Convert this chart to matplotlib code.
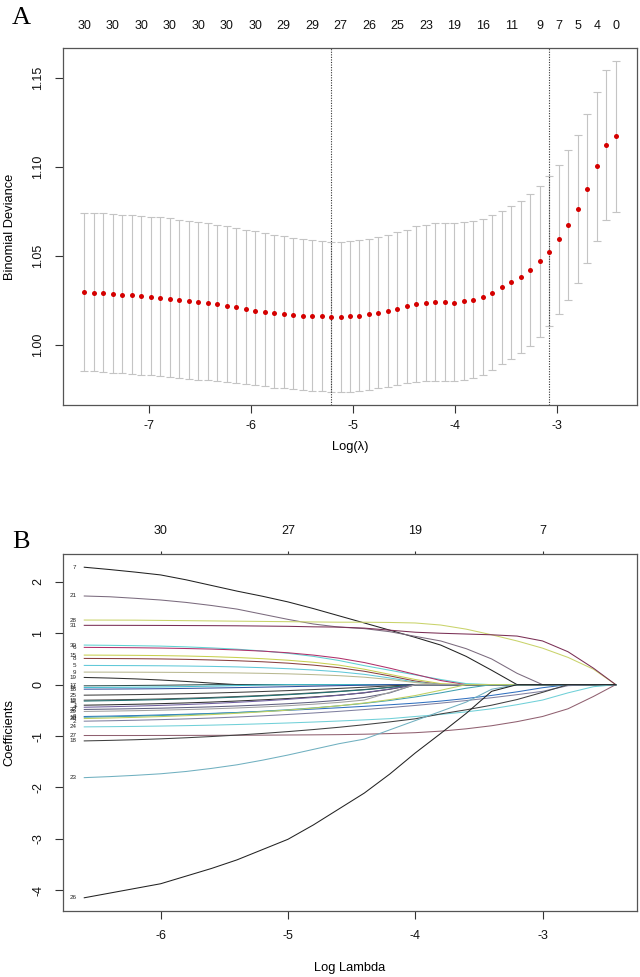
import matplotlib
matplotlib.use('Agg')
import matplotlib.pyplot as plt

plt.rcParams['font.family'] = ['Liberation Sans', 'DejaVu Sans']
plt.rcParams['axes.unicode_minus'] = False

# ---------------- Panel A: cross-validation curve ----------------
cv_loglam = [-7.631, -7.538, -7.445, -7.352, -7.259, -7.166, -7.073, -6.980, -6.887, -6.794,
             -6.701, -6.608, -6.515, -6.422, -6.330, -6.237, -6.144, -6.051, -5.958, -5.865,
             -5.772, -5.679, -5.586, -5.493, -5.400, -5.307, -5.214, -5.121, -5.028, -4.935,
             -4.842, -4.749, -4.656, -4.563, -4.470, -4.377, -4.284, -4.191, -4.098, -4.005,
             -3.912, -3.819, -3.726, -3.633, -3.540, -3.447, -3.354, -3.261, -3.168, -3.075,
             -2.982, -2.889, -2.796, -2.703, -2.610, -2.518, -2.425]
cv_mean = [1.0297, 1.0293, 1.0292, 1.0288, 1.0284, 1.0280, 1.0276, 1.0272, 1.0267, 1.0259,
           1.0254, 1.0248, 1.0243, 1.0237, 1.0230, 1.0220, 1.0213, 1.0201, 1.0192, 1.0184,
           1.0179, 1.0173, 1.0168, 1.0165, 1.0164, 1.0162, 1.0158, 1.0160, 1.0162, 1.0164,
           1.0173, 1.0182, 1.0193, 1.0205, 1.0218, 1.0231, 1.0237, 1.0243, 1.0243, 1.0239,
           1.0246, 1.0254, 1.0272, 1.0293, 1.0325, 1.0354, 1.0385, 1.0423, 1.0470, 1.0525,
           1.0594, 1.0673, 1.0765, 1.0876, 1.1006, 1.1124, 1.1175]
cv_up = [1.0743, 1.0743, 1.0741, 1.0737, 1.0733, 1.0729, 1.0724, 1.0722, 1.0720, 1.0714,
         1.0705, 1.0699, 1.0694, 1.0686, 1.0677, 1.0667, 1.0658, 1.0649, 1.0639, 1.0630,
         1.0620, 1.0611, 1.0603, 1.0598, 1.0592, 1.0587, 1.0579, 1.0579, 1.0583, 1.0588,
         1.0596, 1.0607, 1.0620, 1.0633, 1.0649, 1.0667, 1.0677, 1.0684, 1.0686, 1.0688,
         1.0692, 1.0699, 1.0711, 1.0731, 1.0754, 1.0784, 1.0812, 1.0850, 1.0895, 1.0949,
         1.1011, 1.1096, 1.1180, 1.1299, 1.1425, 1.1547, 1.1596]
cv_lo = [0.9853, 0.9852, 0.9848, 0.9844, 0.9840, 0.9836, 0.9833, 0.9829, 0.9825, 0.9821,
         0.9816, 0.9810, 0.9806, 0.9801, 0.9795, 0.9790, 0.9784, 0.9778, 0.9773, 0.9767,
         0.9761, 0.9756, 0.9750, 0.9746, 0.9742, 0.9739, 0.9737, 0.9737, 0.9737, 0.9741,
         0.9746, 0.9756, 0.9765, 0.9774, 0.9784, 0.9793, 0.9799, 0.9799, 0.9799, 0.9799,
         0.9803, 0.9812, 0.9831, 0.9859, 0.9893, 0.9921, 0.9953, 0.9994, 1.0047, 1.0105,
         1.0173, 1.0254, 1.0346, 1.0461, 1.0585, 1.0703, 1.0748]
nzero_idx = [0, 3, 6, 9, 12, 15, 18, 21, 24, 27, 30, 33, 36, 39, 42, 45, 48, 50, 52, 54, 56]
nzero_lab = [30, 30, 30, 30, 30, 30, 30, 29, 29, 27, 26, 25, 23, 19, 16, 11, 9, 7, 5, 4, 0]
lambda_min_idx = 26
lambda_1se_idx = 49
a_xticks = [-7, -6, -5, -4, -3]
a_yticks = [1.00, 1.05, 1.10, 1.15]

# ---------------- Panel B: coefficient paths ----------------
path_loglam = [-6.6, -6.4, -6.2, -6.0, -5.8, -5.6, -5.4, -5.2, -5.0, -4.8, -4.6,
               -4.4, -4.2, -4.0, -3.8, -3.6, -3.4, -3.2, -3.0, -2.8, -2.6, -2.425]
c7 = [2.285, 2.24, 2.19, 2.135, 2.04, 1.93, 1.82, 1.72, 1.61, 1.48, 1.34, 1.20, 1.06, 0.92, 0.77, 0.55, 0.28, 0, 0, 0, 0, 0]
c21 = [1.725, 1.71, 1.68, 1.647, 1.60, 1.54, 1.47, 1.37, 1.27, 1.18, 1.12, 1.09, 1.03, 0.94, 0.85, 0.70, 0.50, 0.22, 0, 0, 0, 0]
c28 = [1.257, 1.256, 1.255, 1.25, 1.245, 1.24, 1.235, 1.23, 1.225, 1.22, 1.215, 1.215, 1.21, 1.20, 1.16, 1.08, 0.97, 0.85, 0.71, 0.53, 0.30, 0]
c31 = [1.154, 1.154, 1.153, 1.152, 1.15, 1.148, 1.145, 1.14, 1.135, 1.125, 1.12, 1.10, 1.06, 1.02, 1.0, 0.985, 0.97, 0.945, 0.85, 0.64, 0.32, 0]
c30 = [0.770, 0.765, 0.758, 0.750, 0.735, 0.715, 0.690, 0.655, 0.610, 0.550, 0.470, 0.370, 0.280, 0.190, 0.100, 0.020, 0, 0, 0, 0, 0, 0]
c6 = [0.725, 0.722, 0.718, 0.712, 0.703, 0.692, 0.675, 0.652, 0.620, 0.575, 0.515, 0.430, 0.320, 0.200, 0.08, 0, 0, 0, 0, 0, 0, 0]
c15 = [0.575, 0.573, 0.570, 0.565, 0.557, 0.545, 0.528, 0.505, 0.475, 0.435, 0.380, 0.300, 0.200, 0.100, 0.02, 0, 0, 0, 0, 0, 0, 0]
c8 = [0.510, 0.508, 0.505, 0.500, 0.492, 0.480, 0.465, 0.445, 0.418, 0.380, 0.330, 0.260, 0.170, 0.07, 0, 0, 0, 0, 0, 0, 0, 0]
c5 = [0.374, 0.372, 0.370, 0.367, 0.362, 0.355, 0.345, 0.330, 0.310, 0.285, 0.250, 0.200, 0.130, 0.05, 0, 0, 0, 0, 0, 0, 0, 0]
c9 = [0.244, 0.243, 0.242, 0.240, 0.237, 0.233, 0.228, 0.220, 0.210, 0.195, 0.175, 0.145, 0.100, 0.04, 0, 0, 0, 0, 0, 0, 0, 0]
c19 = [0.140, 0.128, 0.112, 0.090, 0.062, 0.030, 0, 0, 0, 0, 0, 0, 0, 0, 0, 0, 0, 0, 0, 0, 0, 0]
c17 = [-0.023, -0.020, -0.016, -0.012, -0.006, 0, 0, 0, 0, 0, 0, 0, 0, 0, 0, 0, 0, 0, 0, 0, 0, 0]
c14 = [-0.055, -0.053, -0.050, -0.045, -0.038, -0.029, -0.019, -0.008, 0, 0, 0, 0, 0, 0, 0, 0, 0, 0, 0, 0, 0, 0]
c16 = [-0.088, -0.086, -0.083, -0.079, -0.073, -0.066, -0.058, -0.049, -0.040, -0.030, -0.020, -0.010, 0, 0, 0, 0, 0, 0, 0, 0, 0, 0]
c25 = [-0.205, -0.200, -0.194, -0.186, -0.176, -0.164, -0.150, -0.134, -0.116, -0.096, -0.074, -0.050, -0.024, 0, 0, 0, 0, 0, 0, 0, 0, 0]
c12 = [-0.302, -0.296, -0.288, -0.278, -0.265, -0.250, -0.232, -0.211, -0.187, -0.160, -0.130, -0.095, -0.050, 0, 0, 0, 0, 0, 0, 0, 0, 0]
c13 = [-0.320, -0.312, -0.303, -0.292, -0.278, -0.262, -0.243, -0.221, -0.196, -0.168, -0.136, -0.100, -0.055, 0, 0, 0, 0, 0, 0, 0, 0, 0]
c1 = [-0.400, -0.392, -0.382, -0.370, -0.356, -0.339, -0.319, -0.296, -0.270, -0.240, -0.205, -0.160, -0.090, 0, 0, 0, 0, 0, 0, 0, 0, 0]
c4 = [-0.440, -0.430, -0.418, -0.404, -0.387, -0.367, -0.344, -0.317, -0.286, -0.250, -0.208, -0.155, -0.085, 0, 0, 0, 0, 0, 0, 0, 0, 0]
c22 = [-0.483, -0.476, -0.468, -0.458, -0.446, -0.432, -0.415, -0.395, -0.371, -0.342, -0.305, -0.250, -0.160, 0, 0, 0, 0, 0, 0, 0, 0, 0]
c29 = [-0.522, -0.515, -0.507, -0.497, -0.485, -0.471, -0.454, -0.434, -0.410, -0.381, -0.346, -0.300, -0.150, 0, 0, 0, 0, 0, 0, 0, 0, 0]
c3 = [-0.620, -0.612, -0.602, -0.590, -0.576, -0.560, -0.542, -0.522, -0.500, -0.476, -0.450, -0.422, -0.392, -0.360, -0.320, -0.270, -0.210, -0.140, -0.060, 0, 0, 0]
c10 = [-0.634, -0.625, -0.614, -0.601, -0.585, -0.566, -0.544, -0.518, -0.488, -0.453, -0.412, -0.364, -0.308, -0.240, -0.160, -0.070, 0, 0, 0, 0, 0, 0]
c20 = [-0.660, -0.650, -0.637, -0.622, -0.604, -0.583, -0.558, -0.529, -0.496, -0.457, -0.411, -0.357, -0.292, -0.212, -0.110, 0, 0, 0, 0, 0, 0, 0]
c2 = [-0.711, -0.703, -0.693, -0.681, -0.667, -0.650, -0.630, -0.607, -0.581, -0.552, -0.520, -0.485, -0.447, -0.405, -0.360, -0.310, -0.255, -0.195, -0.130, -0.020, 0, 0]
c24 = [-0.822, -0.818, -0.813, -0.806, -0.798, -0.788, -0.776, -0.762, -0.746, -0.728, -0.708, -0.686, -0.662, -0.620, -0.580, -0.530, -0.470, -0.390, -0.300, -0.160, -0.040, 0]
c27 = [-0.990, -0.990, -0.990, -0.989, -0.988, -0.987, -0.985, -0.983, -0.980, -0.977, -0.973, -0.965, -0.952, -0.935, -0.905, -0.860, -0.800, -0.720, -0.620, -0.470, -0.230, 0]
c18 = [-1.095, -1.085, -1.072, -1.055, -1.034, -1.010, -0.982, -0.950, -0.914, -0.874, -0.830, -0.780, -0.725, -0.665, -0.570, -0.490, -0.400, -0.290, -0.150, 0, 0, 0]
c23 = [-1.810, -1.790, -1.765, -1.735, -1.690, -1.630, -1.560, -1.470, -1.370, -1.260, -1.150, -1.060, -0.880, -0.700, -0.520, -0.340, -0.090, 0, 0, 0, 0, 0]
c26 = [-4.148, -4.057, -3.966, -3.875, -3.726, -3.577, -3.410, -3.210, -3.010, -2.730, -2.420, -2.110, -1.740, -1.330, -0.950, -0.560, -0.130, 0, 0, 0, 0, 0]
path_labels = [7, 21, 28, 31, 30, 6, 15, 8, 5, 9, 19, 17, 14, 16, 25, 12, 13, 1, 4, 22, 29,
               3, 10, 20, 2, 24, 27, 18, 23, 26]
path_colors = ['#222222', '#7b6b7e', '#c9d36a', '#7a2f55', '#5fd3d3', '#b0306a', '#c8d050',
               '#8a4040', '#60c8d8', '#b8b890', '#303030', '#305050', '#40c0d0', '#3050a0',
               '#404040', '#505050', '#207070', '#303030', '#7060a0', '#606080', '#a0a0a0',
               '#3070c0', '#40a0b0', '#c0d060', '#8080a0', '#70d0d8', '#906070', '#404040',
               '#70b0c0', '#222222']
df_ticks = [-6, -5, -4, -3]
df_labels = [30, 27, 19, 7]
b_yticks = [-4, -3, -2, -1, 0, 1, 2]

paths = [c7, c21, c28, c31, c30, c6, c15, c8, c5, c9, c19, c17, c14, c16, c25, c12, c13,
         c1, c4, c22, c29, c3, c10, c20, c2, c24, c27, c18, c23, c26]

W, H = 640, 977
fig = plt.figure(figsize=(W / 100, H / 100), dpi=100)
spine_c = '#555555'
fs = 9


def style_axes(ax):
    for s in ax.spines.values():
        s.set_color(spine_c)
        s.set_linewidth(0.9)
    ax.tick_params(colors='#333333', labelcolor='#111111', width=0.8, length=6,
                   labelsize=fs)


# ----- Panel A -----
axA = fig.add_axes([63 / W, 1 - 405 / H, 574 / W, 357 / H])
style_axes(axA)
err_lo = [m - l for m, l in zip(cv_mean, cv_lo)]
err_up = [u - m for m, u in zip(cv_mean, cv_up)]
axA.errorbar(cv_loglam, cv_mean, yerr=[err_lo, err_up], fmt='none', ecolor='#c4c4c4',
             elinewidth=0.8, capsize=2.9, capthick=0.8, zorder=1)
axA.plot(cv_loglam, cv_mean, 'o', color='#d40000', ms=3.6, mec='none', zorder=3)
for i in (lambda_min_idx, lambda_1se_idx):
    axA.axvline(cv_loglam[i], color='#333333', lw=0.8, ls=(0, (1, 1.3)), zorder=2)
axA.margins(x=0.04, y=0.04)
axA.set_xticks(a_xticks)
axA.set_yticks(a_yticks, labels=['%.2f' % v for v in a_yticks])
axA.tick_params(axis='x', pad=4.5)
axA.tick_params(axis='y', pad=7.5)
for lab in axA.get_yticklabels():
    lab.set_rotation(90)
    lab.set_va('center')
axA.set_xlabel('Log(\u03bb)', fontsize=fs + 0.3, labelpad=7)
axA.set_ylabel('Binomial Deviance', fontsize=fs + 0.3, labelpad=12)
secA = axA.secondary_xaxis('top')
secA.set_xticks([cv_loglam[i] for i in nzero_idx], labels=[str(n) for n in nzero_lab])
secA.tick_params(length=0, pad=11.5, labelsize=fs, labelcolor='#111111')
secA.spines['top'].set_visible(False)
fig.text(12 / W, 1 - 18 / H, 'A', fontsize=19, family='Liberation Serif',
         va='center', ha='left')

# ----- Panel B -----
axB = fig.add_axes([63 / W, 1 - 911 / H, 574 / W, 357 / H])
style_axes(axB)
for vals, lab, col in zip(paths, path_labels, path_colors):
    axB.plot(path_loglam, vals, color=col, lw=0.75)
    axB.annotate(str(lab), xy=(path_loglam[0], vals[0]), xytext=(-5.5, 0),
                 textcoords='offset points', ha='right', va='center',
                 fontsize=4.5, color='#222222')
axB.margins(x=0.04, y=0.04)
axB.set_xticks(df_ticks)
axB.set_yticks(b_yticks)
axB.tick_params(axis='x', pad=8)
axB.tick_params(axis='y', pad=7.5)
for lab in axB.get_yticklabels():
    lab.set_rotation(90)
    lab.set_va('center')
axB.set_xlabel('Log Lambda', fontsize=fs + 0.3, labelpad=14)
axB.set_ylabel('Coefficients', fontsize=fs + 0.3, labelpad=12)
secB = axB.secondary_xaxis('top')
secB.set_xticks(df_ticks, labels=[str(n) for n in df_labels])
secB.tick_params(length=2.5, width=0.8, color='#333333', pad=9.5, labelsize=fs,
                 labelcolor='#111111')
secB.spines['top'].set_visible(False)
fig.text(12 / W, 1 - 542 / H, 'B', fontsize=19, family='Liberation Serif',
         va='center', ha='left')

fig.savefig('out.png', dpi=100)
